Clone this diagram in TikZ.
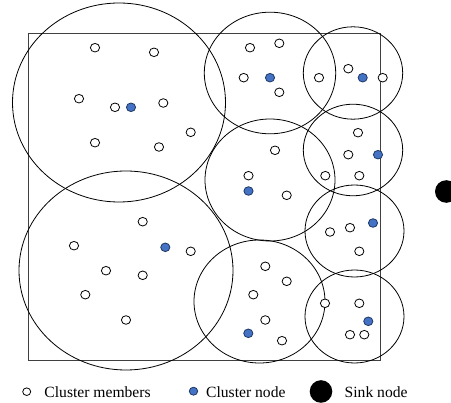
\documentclass[tikz,border=0pt]{standalone}
\usepackage{fontspec}
\setmainfont{Liberation Serif}
\usetikzlibrary{shapes.geometric}
\definecolor{headblue}{HTML}{4472C4}
\definecolor{headrim}{HTML}{1F3864}
\tikzset{
  area/.style={draw=black!75, line width=0.9pt},
  cluster/.style={ellipse, draw=black, line width=0.8pt, inner sep=0pt},
  member/.style={ellipse, draw=black, fill=white, line width=0.8pt, inner sep=0pt,
                 minimum width=9.2pt, minimum height=8.6pt},
  head/.style={member, fill=headblue, draw=headrim},
  sink/.style={circle, fill=black, inner sep=0pt, minimum size=22.6pt},
  legendtext/.style={anchor=base west, inner sep=0pt, font=\fontsize{15.6}{18}\selectfont}
}
\begin{document}
\begin{tikzpicture}[x=1pt, y=-1pt]
\useasboundingbox (0,0) rectangle (451,403);

% monitored area
\draw[area] (28.5,33) rectangle (380,360);

% cluster ranges
\node[cluster, minimum width=213pt, minimum height=199pt] (c1) at (119,102.5) {};
\node[cluster, minimum width=214pt, minimum height=199pt] (c2) at (126,270.5) {};
\node[cluster, minimum width=131.4pt, minimum height=121.6pt] (c3) at (270,73) {};
\node[cluster, minimum width=99.4pt, minimum height=92.4pt] (c4) at (353,73) {};
\node[cluster, minimum width=130pt, minimum height=122pt] (c5) at (270,180) {};
\node[cluster, minimum width=99.4pt, minimum height=91.6pt] (c6) at (353,150) {};
\node[cluster, minimum width=99pt, minimum height=92pt] (c7) at (354.5,231) {};
\node[cluster, minimum width=99pt, minimum height=93pt] (c8) at (354.5,316.5) {};
\node[cluster, minimum width=131pt, minimum height=123pt] (c9) at (259.5,301.5) {};

% cluster 1
\node[member] (m1a) at (95,47.7) {};
\node[member] (m1b) at (154,52.3) {};
\node[member] (m1c) at (79,98.7) {};
\node[member] (m1d) at (115,107.3) {};
\node[head]   (h1)  at (131,107.3) {};
\node[member] (m1e) at (163.3,103) {};
\node[member] (m1f) at (190.7,132.3) {};
\node[member] (m1g) at (95,142.7) {};
\node[member] (m1h) at (159,147) {};

% cluster 2
\node[member] (m2a) at (142.7,221.7) {};
\node[member] (m2b) at (74,245.7) {};
\node[head]   (h2)  at (165.3,247.3) {};
\node[member] (m2c) at (190.7,251.3) {};
\node[member] (m2d) at (106,270.7) {};
\node[member] (m2e) at (142.7,275.3) {};
\node[member] (m2f) at (85.3,294.7) {};
\node[member] (m2g) at (126,320) {};

% cluster 3
\node[member] (m3a) at (250,47.7) {};
\node[member] (m3b) at (279.3,43.3) {};
\node[member] (m3c) at (243.7,77.7) {};
\node[head]   (h3)  at (270,77.7) {};
\node[member] (m3d) at (279.3,92.3) {};

% cluster 4
\node[member] (m4a) at (319,77.7) {};
\node[member] (m4b) at (348.3,68.7) {};
\node[head]   (h4)  at (362.7,77.7) {};
\node[member] (m4c) at (382.7,77.7) {};

% cluster 5
\node[member] (m5a) at (275,150.3) {};
\node[member] (m5b) at (248.5,175.7) {};
\node[head]   (h5)  at (248.5,191) {};
\node[member] (m5c) at (286.7,195.3) {};

% cluster 6
\node[member] (m6a) at (358,132.7) {};
\node[member] (m6b) at (348.3,154.7) {};
\node[head]   (h6)  at (378,154.7) {};
\node[member] (m6c) at (359.3,175.7) {};
\node[member] (m6d) at (325.3,175.7) {};

% cluster 7
\node[head]   (h7)  at (373,223) {};
\node[member] (m7a) at (350,227.7) {};
\node[member] (m7b) at (330,232) {};
\node[member] (m7c) at (359.3,251.3) {};

% cluster 8
\node[member] (m8a) at (325,303.3) {};
\node[member] (m8b) at (359.3,303.3) {};
\node[head]   (h8)  at (368.3,321.3) {};
\node[member] (m8c) at (350,334.7) {};
\node[member] (m8d) at (364.3,334.7) {};

% cluster 9
\node[member] (m9a) at (265.3,266.3) {};
\node[member] (m9b) at (286.7,281.3) {};
\node[member] (m9c) at (253.3,294.7) {};
\node[member] (m9d) at (265.3,320) {};
\node[head]   (h9)  at (248.3,333.3) {};
\node[member] (m9e) at (282,340.7) {};

% sink
\node[sink] (sink) at (446.3,191.5) {};

% legend
\node[member, minimum width=8pt, minimum height=7.6pt] (lgm) at (26.7,391.7) {};
\node[legendtext] (lgmt) at (44.3,397.3) {Cluster members};
\node[head, minimum width=8.4pt, minimum height=8pt] (lgh) at (193.5,391.2) {};
\node[legendtext] (lght) at (206,397.3) {Cluster node};
\node[sink] (lgs) at (321,391.5) {};
\node[legendtext] (lgst) at (344.5,397.3) {Sink node};
\end{tikzpicture}
\end{document}
